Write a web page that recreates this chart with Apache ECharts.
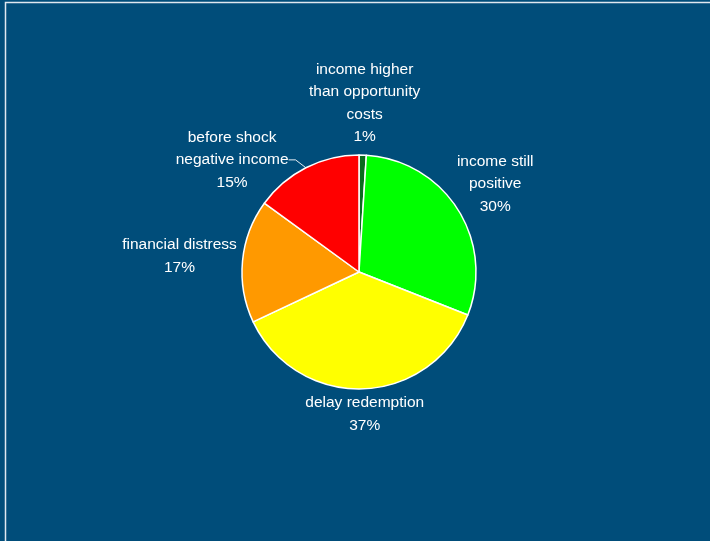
<!DOCTYPE html>
<html><head><meta charset="utf-8">
<script src="https://cdn.jsdelivr.net/npm/echarts@6/dist/echarts.min.js"></script>
<style>html,body{margin:0;padding:0;background:#004d7a;overflow:hidden}#c{width:710px;height:541px}</style>
</head><body><div id="c"></div>
<script>
const categories = ['income higher\nthan opportunity\ncosts', 'income still\npositive', 'delay redemption', 'financial distress', 'before shock\nnegative income'];
const values = [1, 30, 37, 17, 15];
const sliceColors = ['#0b6b1f', '#00ff00', '#ffff00', '#ff9900', '#ff0000'];

const CX = 359, CY = 272, R = 117, GAP = 5;
const total = values.reduce((a, b) => a + b, 0);
function midAngle(i) { let s = 0; for (let k = 0; k < i; k++) s += values[k]; return (s + values[i] / 2) / total * 360; }
function boxAt(ang, w, h) {
  const r = ang * Math.PI / 180, dx = Math.sin(r), dy = -Math.cos(r);
  return { cx: CX + (R + GAP) * dx + dx * (w / 2 + 1), cy: CY + (R + GAP) * dy + dy * h / 2 - 2 - 3 * Math.max(dx, 0), w: w, h: h };
}
function overlap(a, b) {
  return Math.abs(a.cx - b.cx) < (a.w + b.w) / 2 + 20 && Math.abs(a.cy - b.cy) < (a.h + b.h) / 2 + 3;
}
let placed = [];
function layoutLabel(p) {
  const i = p.dataIndex;
  if (i === 0) placed = [];
  const w = p.labelRect.width, h = p.labelRect.height;
  const a0 = midAngle(i);
  let ang = a0;
  const step = a0 > 180 ? -1 : 1;
  let box = boxAt(ang, w, h);
  let guard = 0;
  while (placed.some(b => overlap(b, box)) && guard < 120) { ang += step; box = boxAt(ang, w, h); guard++; }
  placed.push(box);
  const r0 = a0 * Math.PI / 180;
  const edge = [CX + R * Math.sin(r0), CY - R * Math.cos(r0)];
  let pts;
  if (ang !== a0) {
    const left = box.cx < CX;
    const tx = left ? box.cx + w / 2 : box.cx - w / 2;
    pts = [edge, [tx + (left ? 7 : -7), box.cy], [tx, box.cy]];
  } else {
    pts = [edge, edge, edge];
  }
  return { x: box.cx, y: box.cy, align: 'center', verticalAlign: 'middle', labelLinePoints: pts };
}

const chart = echarts.init(document.getElementById('c'));
chart.setOption({
  backgroundColor: '#004d7a',
  animation: false,
  graphic: [{
    type: 'rect', silent: true,
    shape: { x: 5.5, y: 2.5, width: 800, height: 700 },
    style: { fill: 'none', stroke: '#dfe8f0', lineWidth: 1.5 }
  }],
  series: [{
    type: 'pie',
    center: [CX, CY],
    radius: R,
    startAngle: 90,
    clockwise: true,
    avoidLabelOverlap: false,
    data: categories.map((c, i) => ({ name: c, value: values[i], itemStyle: { color: sliceColors[i] } })),
    itemStyle: { borderColor: '#ffffff', borderWidth: 1.5 },
    label: {
      show: true, position: 'outside', color: '#ffffff',
      fontFamily: 'Liberation Sans, Arial, sans-serif', fontSize: 15.5, lineHeight: 22.5,
      align: 'center',
      formatter: p => p.name + '\n' + Math.round(p.value / total * 100) + '%'
    },
    labelLine: { show: true, lineStyle: { color: '#e8eef3', width: 1 } },
    labelLayout: layoutLabel,
    emphasis: { disabled: true }
  }]
});
</script>
</body></html>
